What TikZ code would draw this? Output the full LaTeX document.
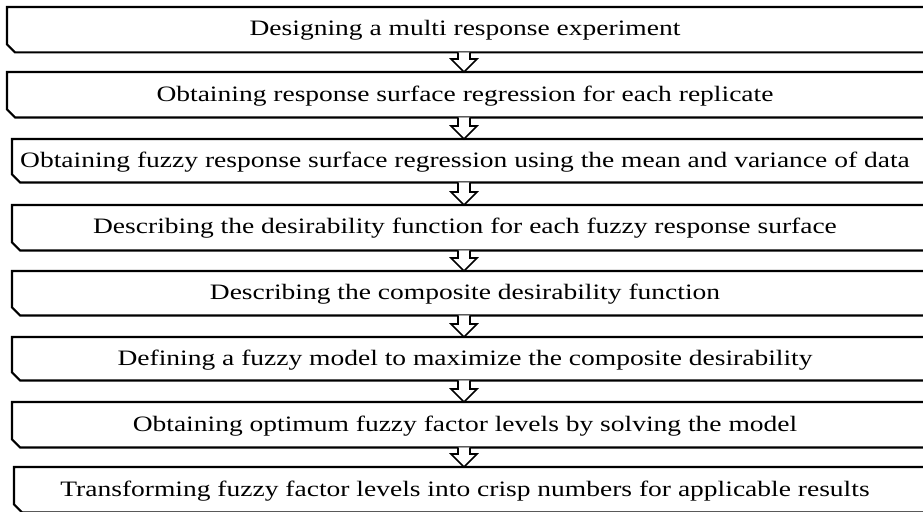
\documentclass[tikz,border=0pt]{standalone}
\usepackage{fontspec}
\setmainfont[FakeStretch=1.25]{Liberation Serif}
\usetikzlibrary{calc}
\tikzset{
  stepbox/.style={minimum height=45pt, inner sep=0pt, anchor=north west},
  boxline/.style={line width=2.2pt, black},
  arrowline/.style={line width=1.6pt, black, fill=white, line join=miter},
  lbl/.style={font=\fontsize{22}{26}\selectfont, inner sep=0pt, anchor=base},
}
\newcommand\bevelbox[1]{%
  \draw[boxline] (#1.north west) -- ([xshift=-4pt]#1.north east) [rounded corners=4pt] -- (#1.north east) [sharp corners] -- (#1.south east) -- ([xshift=8pt]#1.south west) -- ([yshift=8pt]#1.south west) -- cycle;}
\newcommand\hollowdown[2]{%
  \draw[arrowline] let \p1=(#1.south), \p2=(#2.north) in
    ({464pt-6pt},\y1) -- ({464pt-6pt},{\y2+13pt}) -- ({464pt-13pt},{\y2+13pt}) -- (464pt,\y2) -- ({464pt+13pt},{\y2+13pt}) -- ({464pt+6pt},{\y2+13pt}) -- ({464pt+6pt},\y1);}
\begin{document}
\begin{tikzpicture}[x=1pt,y=-1pt]
\useasboundingbox (0,0) rectangle (923,511);
\clip (0,0) rectangle (923,511);
\node[stepbox, minimum width=920pt] (b1) at (7,7) {};
\node[stepbox, minimum width=920pt] (b2) at (7,72) {};
\node[stepbox, minimum width=915pt, minimum height=43pt] (b3) at (12,139) {};
\node[stepbox, minimum width=915pt] (b4) at (12,205) {};
\node[stepbox, minimum width=915pt, minimum height=44pt] (b5) at (12,271) {};
\node[stepbox, minimum width=915pt, minimum height=43pt] (b6) at (12,337) {};
\node[stepbox, minimum width=915pt] (b7) at (12,402) {};
\node[stepbox, minimum width=913pt] (b8) at (14,467) {};
\foreach \b in {b1,b2,b3,b4,b5,b6,b7,b8} {\bevelbox{\b}}
\hollowdown{b1}{b2}
\hollowdown{b2}{b3}
\hollowdown{b3}{b4}
\hollowdown{b4}{b5}
\hollowdown{b5}{b6}
\hollowdown{b6}{b7}
\hollowdown{b7}{b8}
\node[lbl] (t1) at (465,36) {Designing a multi response experiment};
\node[lbl] (t2) at (465,101) {Obtaining response surface regression for each replicate};
\node[lbl] (t3) at (465,167) {Obtaining fuzzy response surface regression using the mean and variance of data};
\node[lbl] (t4) at (465,233) {Describing the desirability function for each fuzzy response surface};
\node[lbl] (t5) at (465,299) {Describing the composite desirability function};
\node[lbl] (t6) at (465,365) {Defining a fuzzy model to maximize the composite desirability};
\node[lbl] (t7) at (465,431) {Obtaining optimum fuzzy factor levels by solving the model};
\node[lbl] (t8) at (465,496) {Transforming fuzzy factor levels into crisp numbers for applicable results};
\end{tikzpicture}
\end{document}
